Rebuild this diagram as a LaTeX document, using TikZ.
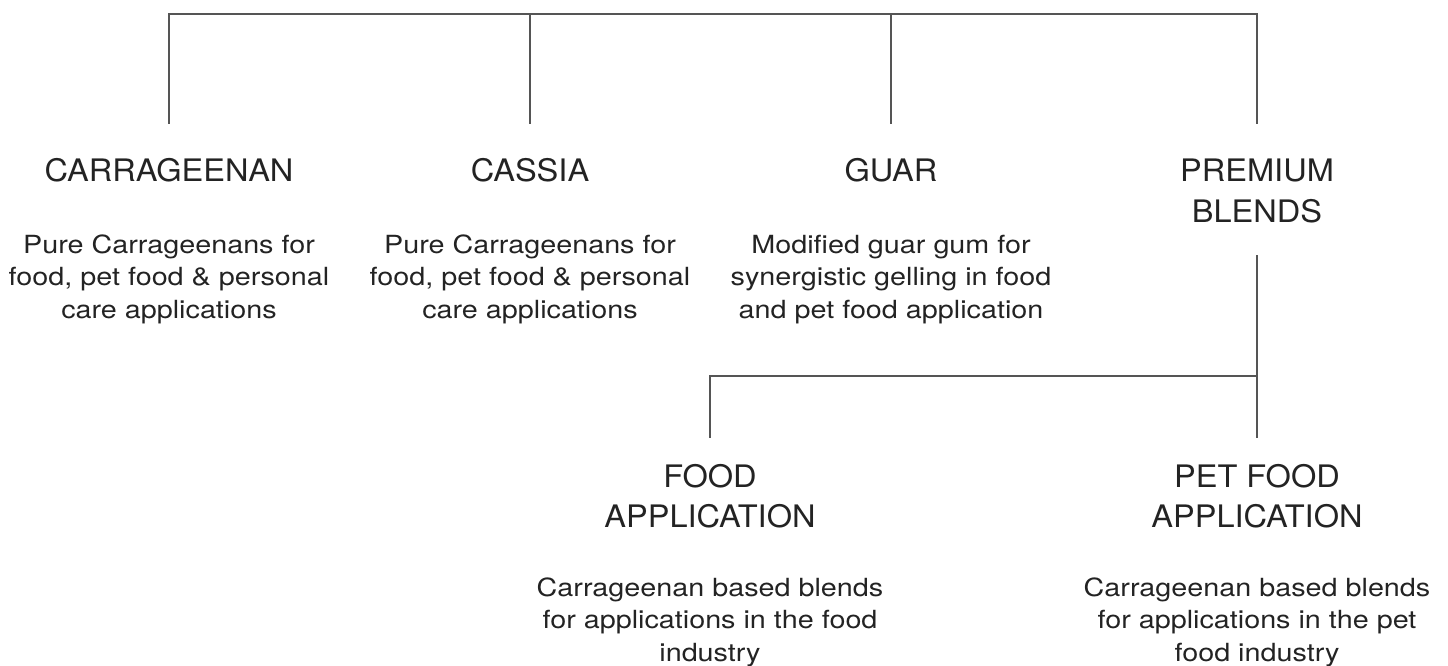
\documentclass[tikz,border=0pt]{standalone}
\usepackage{fontspec}
\setmainfont{TeX Gyre Heros}
\newfontfamily\headfont[FakeStretch=1.05]{TeX Gyre Heros}
\newfontfamily\blurbfont[FakeStretch=1.15]{TeX Gyre Heros}
\usetikzlibrary{positioning}
\definecolor{inkgray}{HTML}{232323}
\definecolor{linegray}{HTML}{555555}

\tikzset{
	head/.style={font=\headfont\fontsize{31}{40}\selectfont, text=inkgray, align=center, anchor=base, inner sep=0pt},
	blurb/.style={font=\blurbfont\fontsize{25}{32.3}\selectfont, text=inkgray, align=center, anchor=base, inner sep=0pt},
	branch/.style={draw=linegray, line width=1.2pt}
}

\begin{document}
\begin{tikzpicture}[x=1pt,y=-1pt]
				\useasboundingbox (0,0) rectangle (1448,666);

				% (base anchor = baseline of the last line)
				\node[head] (carr) at (169,182) {CARRAGEENAN};
				\node[head] (cassia) at (530,182) {CASSIA};
				\node[head] (guar) at (891,182) {GUAR};
				\node[head] (premium) at (1257,222) {PREMIUM\\BLENDS};

				\node[blurb] (carrtxt) at (169,318) {Pure Carrageenans for\\food, pet food \& personal\\care applications};
				\node[blurb] (cassiatxt) at (530,318) {Pure Carrageenans for\\food, pet food \& personal\\care applications};
				\node[blurb] (guartxt) at (891,318) {Modified guar gum for\\synergistic gelling in food\\and pet food application};

				\node[head] (food) at (710,527) {FOOD\\APPLICATION};
				\node[head] (petfood) at (1257,527) {PET FOOD\\APPLICATION};

				\node[blurb] (foodtxt) at (710,661) {Carrageenan based blends\\for applications in the food\\industry};
				\node[blurb] (petfoodtxt) at (1257,661) {Carrageenan based blends\\for applications in the pet\\food industry};

				% top bar
				\coordinate (barL) at (169,14);
				\coordinate (barR) at (1257,14);
				\coordinate (carrjoin) at (169,124);
				\coordinate (cassiajoin) at (530,124);
				\coordinate (guarjoin) at (891,124);
				\coordinate (premjoin) at (1257,124);
				\draw[branch] (carrjoin) -- (barL) -- (barR) -- (premjoin);
				\draw[branch] (cassiajoin) -- (cassiajoin |- barL);
				\draw[branch] (guarjoin) -- (guarjoin |- barL);

				% premium blends split
				\coordinate (stemtop) at (1257,255);
				\coordinate (stemfork) at (1257,376);
				\coordinate (foodjoin) at (710,438);
				\coordinate (petjoin) at (1257,438);
				\draw[branch] (stemtop) -- (petjoin);
				\draw[branch] (stemfork) -| (foodjoin);
			\end{tikzpicture}
\end{document}
